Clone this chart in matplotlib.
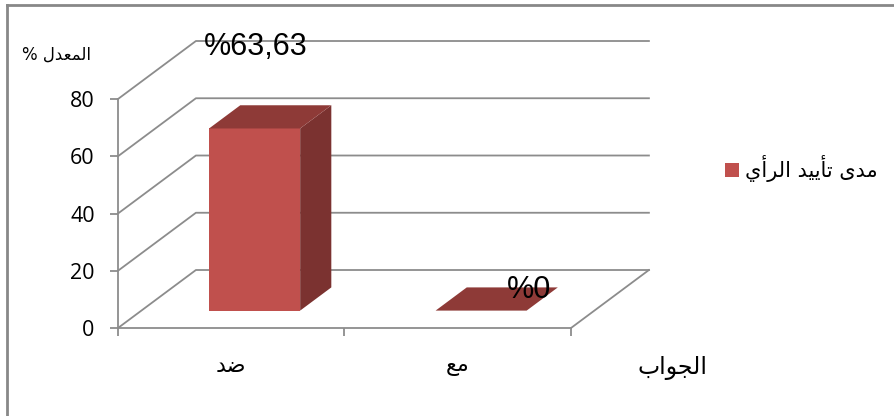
import matplotlib
matplotlib.use('Agg')
import matplotlib.pyplot as plt
from matplotlib.patches import Polygon, Patch
from matplotlib.lines import Line2D

# Données
categories = ['ضد', 'مع']
valeurs = [63.63, 0]
nom_serie = 'مدى تأييد الرأي'
titre_y = 'المعدل %'
titre_x = 'الجواب'
graduations_y = [0, 20, 40, 60, 80]

# formes contextuelles : isolée, finale, initiale, médiane
FORMES = {
    'ا': ('\uFE8D', '\uFE8E', None, None),
    'أ': ('\uFE83', '\uFE84', None, None),
    'ب': ('\uFE8F', '\uFE90', '\uFE91', '\uFE92'),
    'ت': ('\uFE95', '\uFE96', '\uFE97', '\uFE98'),
    'ج': ('\uFE9D', '\uFE9E', '\uFE9F', '\uFEA0'),
    'د': ('\uFEA9', '\uFEAA', None, None),
    'ر': ('\uFEAD', '\uFEAE', None, None),
    'ض': ('\uFEBD', '\uFEBE', '\uFEBF', '\uFEC0'),
    'ع': ('\uFEC9', '\uFECA', '\uFECB', '\uFECC'),
    'ل': ('\uFEDD', '\uFEDE', '\uFEDF', '\uFEE0'),
    'م': ('\uFEE1', '\uFEE2', '\uFEE3', '\uFEE4'),
    'و': ('\uFEED', '\uFEEE', None, None),
    'ى': ('\uFEEF', '\uFEF0', None, None),
    'ي': ('\uFEF1', '\uFEF2', '\uFEF3', '\uFEF4'),
}


def arabe(texte):
    # mise en forme des lettres + ordre visuel (droite à gauche)
    res = []
    for i, c in enumerate(texte):
        if c not in FORMES:
            res.append(c)
            continue
        prec = texte[i - 1] if i > 0 else ''
        suiv = texte[i + 1] if i + 1 < len(texte) else ''
        lie_avant = prec in FORMES and FORMES[prec][2] is not None
        lie_apres = FORMES[c][2] is not None and suiv in FORMES
        iso, fin, ini, med = FORMES[c]
        if lie_avant and lie_apres:
            res.append(med)
        elif lie_avant:
            res.append(fin)
        elif lie_apres:
            res.append(ini)
        else:
            res.append(iso)
    return ''.join(res[::-1])


def etiquette(v):
    s = f"{v:.2f}".rstrip('0').rstrip('.')
    return '%' + s.replace('.', ',')


# style
gris = '#8c8c8c'
face_avant = '#C0504D'
face_cote = '#7B3230'
face_dessus = '#8E3A37'
police_ar = 'DejaVu Sans'
police_num = ['Open Sans', 'DejaVu Sans']

# profondeur 3D (projection oblique, en unités de données)
ox = 0.344
oy = 20.26
d0, d1 = 0.3, 0.7
largeur = 0.402
decalages = [(-14, 70), (32, 9)]  # position des étiquettes (pixels)

fig = plt.figure(figsize=(8.95, 4.16), dpi=100)
ax = fig.add_axes([118 / 895, 88 / 416, 453 / 895, 229 / 416])
ax.set_xlim(0, len(categories))
ax.set_ylim(0, graduations_y[-1])

# murs et sol
for v in graduations_y:
    ax.plot([0, ox, len(categories) + ox], [v, v + oy, v + oy],
            color=gris, lw=1.3, clip_on=False, zorder=1)
ax.plot([len(categories), len(categories) + ox], [0, oy],
        color=gris, lw=1.3, clip_on=False, zorder=1)

# barres
for i, v in enumerate(valeurs):
    x0 = i + 0.5 - largeur / 2
    x1 = x0 + largeur
    avant = [(x0 + d0 * ox, d0 * oy), (x1 + d0 * ox, d0 * oy),
             (x1 + d0 * ox, v + d0 * oy), (x0 + d0 * ox, v + d0 * oy)]
    cote = [(x1 + d0 * ox, d0 * oy), (x1 + d1 * ox, d1 * oy),
            (x1 + d1 * ox, v + d1 * oy), (x1 + d0 * ox, v + d0 * oy)]
    dessus = [(x0 + d0 * ox, v + d0 * oy), (x1 + d0 * ox, v + d0 * oy),
              (x1 + d1 * ox, v + d1 * oy), (x0 + d1 * ox, v + d1 * oy)]
    for pts, c in [(cote, face_cote), (avant, face_avant), (dessus, face_dessus)]:
        ax.add_patch(Polygon(pts, closed=True, facecolor=c, edgecolor='none',
                             clip_on=False, zorder=3))
    ax.annotate(etiquette(v), xy=(i + 0.5 + (d0 + d1) / 2 * ox, v + (d0 + d1) / 2 * oy),
                xytext=decalages[i], textcoords='offset pixels',
                ha='center', va='center', fontsize=22,
                family=['Liberation Sans', 'DejaVu Sans'], zorder=5,
                annotation_clip=False)

# axes
for s in ['top', 'right']:
    ax.spines[s].set_visible(False)
for s in ['left', 'bottom']:
    ax.spines[s].set_color(gris)
    ax.spines[s].set_linewidth(1.3)
ax.patch.set_alpha(0)

ax.set_yticks(graduations_y)
ax.set_yticklabels([str(v) for v in graduations_y], family=police_num, fontsize=15.5)
ax.tick_params(axis='y', direction='out', length=5.8, width=1.3, color=gris, pad=11)

ax.set_xticks(range(len(categories) + 1))
ax.set_xticklabels([])
ax.set_xticks([i + 0.5 for i in range(len(categories))], minor=True)
ax.set_xticklabels([arabe(c) for c in categories], minor=True,
                   family=police_ar, fontsize=16)
ax.tick_params(axis='x', which='major', direction='out', length=5.8, width=1.3, color=gris)
ax.tick_params(axis='x', which='minor', length=0, pad=20)

ax.text(2.45, -14, arabe(titre_x), ha='center', va='center',
        family=police_ar, fontsize=17, clip_on=False)
fig.text(57 / 895, 1 - 55 / 416, arabe(titre_y), ha='center', va='center',
         family=[police_ar], fontsize=12)

# légende
fig.legend(handles=[Patch(facecolor=face_avant, edgecolor='none')],
           labels=[arabe(nom_serie)], loc='center left',
           bbox_to_anchor=(725 / 895, 1 - 169 / 416), frameon=False,
           handlelength=0.65, handleheight=0.65, handletextpad=0.3,
           borderpad=0, borderaxespad=0, prop={'family': police_ar, 'size': 15})

# cadre
fig.add_artist(Line2D([7 / 895, 7 / 895], [0, 1 - 4.5 / 416], color='#888888', lw=2))
fig.add_artist(Line2D([7 / 895, 1], [1 - 4.5 / 416, 1 - 4.5 / 416], color='#888888', lw=2))

fig.savefig('out.png', dpi=100)
